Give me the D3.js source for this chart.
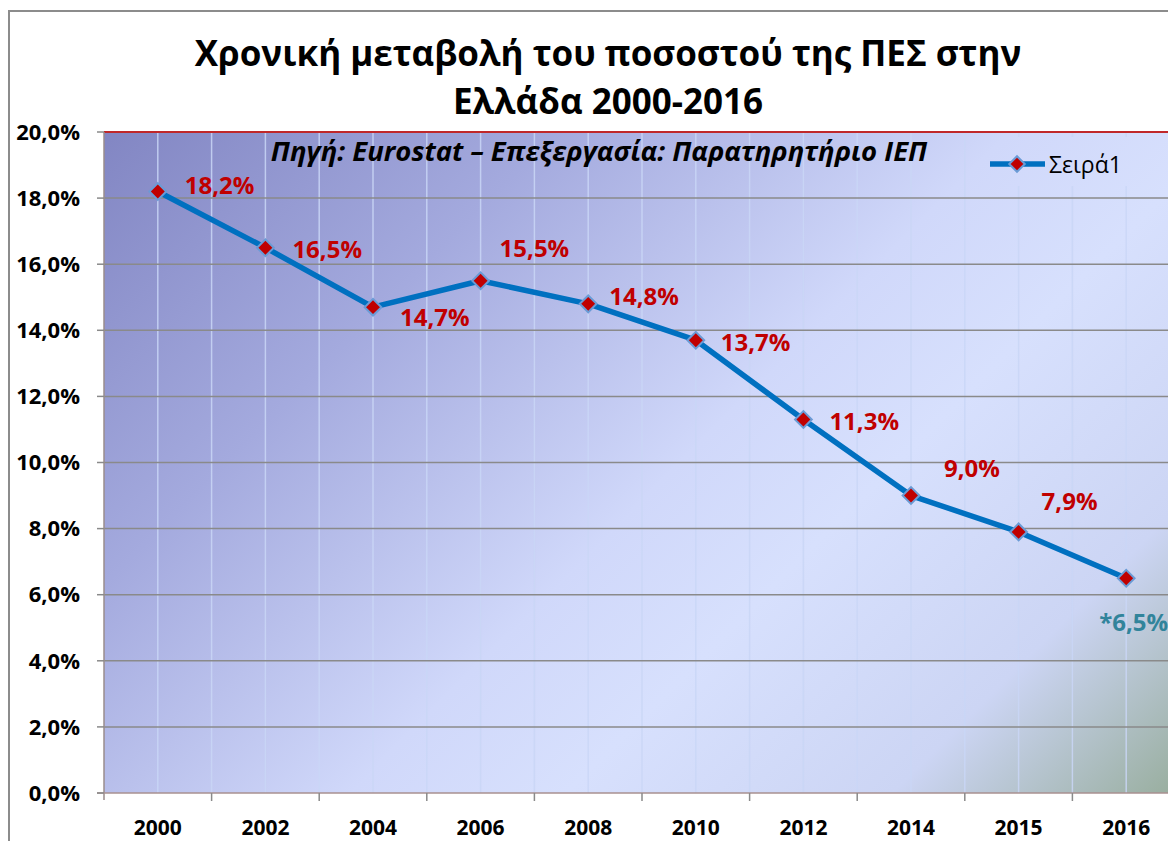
<!DOCTYPE html>
<html>
<head>
<meta charset="utf-8">
<script src="https://cdn.jsdelivr.net/npm/d3@7"></script>
<style>
body{margin:0;background:#fff;overflow:hidden}
text{font-family:"Open Sans","Noto Sans",sans-serif}
</style>
</head>
<body>
<div id="chart"></div>
<script>
var years = ["2000","2002","2004","2006","2008","2010","2012","2014","2015","2016"]
var values = [18.2,16.5,14.7,15.5,14.8,13.7,11.3,9.0,7.9,6.5]
var valueLabels = ["18,2%","16,5%","14,7%","15,5%","14,8%","13,7%","11,3%","9,0%","7,9%","*6,5%"]
var yTicks = [0,2,4,6,8,10,12,14,16,18,20]
// manual label placement (offset from marker, like the original excel layout)
var labelDx = [27,27,27,19,21,25,26,33,23,-27]
var labelDy = [-6,2,10,-32,-7,2,2,-27,-30,44]

var width = 1168,
    height = 841;
var pLeft = 104, pTop = 132, pBottom = 793, bandW = 107.6;

var svg = d3.select("#chart").append("svg")
    .attr("width", width)
    .attr("height", height)

var defs = svg.append("defs")
var grad = defs.append("linearGradient")
    .attr("id","bg")
    .attr("gradientUnits","userSpaceOnUse")
    .attr("x1",104).attr("y1",132)
    .attr("x2",1010).attr("y2",1038)
grad.append("stop").attr("offset",0).attr("stop-color","#8286c3")
grad.append("stop").attr("offset",0.25).attr("stop-color","#a4aade")
grad.append("stop").attr("offset",0.5).attr("stop-color","#d0d8fa")
grad.append("stop").attr("offset",0.62).attr("stop-color","#d7e0fd")
grad.append("stop").attr("offset",0.8).attr("stop-color","#ccd5f4")
grad.append("stop").attr("offset",1).attr("stop-color","#8aa386")

var x = d3.scaleBand().domain(years).range([pLeft, pLeft + bandW*years.length])
var y = d3.scaleLinear().domain([0,20]).range([pBottom, pTop])

// outer chart frame
svg.append("path")
    .attr("d","M9,841 L9,11 L1168,11")
    .attr("fill","none")
    .attr("stroke","#8c8c8c")
    .attr("stroke-width",2)

// plot area
svg.append("rect")
    .attr("x",pLeft).attr("y",pTop)
    .attr("width",bandW*years.length).attr("height",pBottom-pTop)
    .attr("fill","url(#bg)")

// vertical gridlines (centre and boundary of every category)
var vlines = []
years.forEach(function(d){
    vlines.push(x(d) + bandW/2)
    vlines.push(x(d) + bandW)
})
svg.selectAll(".vgrid").data(vlines).enter().append("line")
    .attr("class","vgrid")
    .attr("x1",function(d){return d}).attr("x2",function(d){return d})
    .attr("y1",pTop).attr("y2",pBottom)
    .attr("stroke","#c9d6f6")
    .attr("stroke-opacity",0.85)
    .attr("stroke-width",1.5)

// horizontal gridlines
svg.selectAll(".hgrid").data(yTicks.slice(1,-1)).enter().append("line")
    .attr("class","hgrid")
    .attr("x1",pLeft).attr("x2",width)
    .attr("y1",function(d){return y(d)}).attr("y2",function(d){return y(d)})
    .attr("stroke","#8a8a8a")
    .attr("stroke-width",1.5)

// legend box (covers gridlines)
svg.append("rect")
    .attr("x",966).attr("y",137)
    .attr("width",210).attr("height",49)
    .attr("fill","url(#bg)")

// top and axes lines
svg.append("line").attr("x1",pLeft).attr("x2",width).attr("y1",pTop).attr("y2",pTop)
    .attr("stroke","#c0282a").attr("stroke-width",2)
svg.append("line").attr("x1",pLeft).attr("x2",pLeft).attr("y1",pTop).attr("y2",pBottom+7)
    .attr("stroke","#9a8c8c").attr("stroke-width",1.5)
svg.append("line").attr("x1",pLeft-7).attr("x2",width).attr("y1",pBottom).attr("y2",pBottom)
    .attr("stroke","#a89090").attr("stroke-width",1.5)

// y ticks
svg.selectAll(".ytick").data(yTicks).enter().append("line")
    .attr("x1",pLeft-7).attr("x2",pLeft)
    .attr("y1",function(d){return y(d)}).attr("y2",function(d){return y(d)})
    .attr("stroke","#8a8a8a").attr("stroke-width",1.5)
svg.selectAll(".ylab").data(yTicks).enter().append("text")
    .attr("x",80)
    .attr("y",function(d){return y(d)})
    .attr("dy","0.35em")
    .attr("text-anchor","end")
    .attr("font-size",22)
    .attr("font-weight","bold")
    .text(function(d){return d3.format(".1f")(d).replace(".",",")+"%"})

// x ticks at category boundaries
svg.selectAll(".xtick").data(years).enter().append("line")
    .attr("x1",function(d){return x(d)+bandW}).attr("x2",function(d){return x(d)+bandW})
    .attr("y1",pBottom).attr("y2",pBottom+8)
    .attr("stroke","#8a8a8a").attr("stroke-width",1.5)
svg.selectAll(".xlab").data(years).enter().append("text")
    .attr("x",function(d){return x(d)+bandW/2})
    .attr("y",828)
    .attr("dy","0.35em")
    .attr("text-anchor","middle")
    .attr("font-size",21)
    .attr("font-weight","bold")
    .text(function(d){return d})

// series line
var line = d3.line()
    .x(function(d,i){return x(years[i])+bandW/2})
    .y(function(d){return y(d)})
svg.append("path")
    .datum(values)
    .attr("d",line)
    .attr("fill","none")
    .attr("stroke","#0070c0")
    .attr("stroke-width",5.5)
    .attr("stroke-linejoin","round")

svg.selectAll(".pt").data(values).enter().append("path")
    .attr("class","pt")
    .attr("d",d3.symbol().type(d3.symbolSquare).size(140))
    .attr("transform",function(d,i){return "translate("+(x(years[i])+bandW/2)+","+y(d)+") rotate(45)"})
    .attr("fill","#c00000")
    .attr("stroke","#6a9bd6")
    .attr("stroke-width",2)

// data labels
svg.selectAll(".vlab").data(values).enter().append("text")
    .attr("x",function(d,i){return x(years[i])+bandW/2+labelDx[i]})
    .attr("y",function(d,i){return y(d)+labelDy[i]})
    .attr("dy","0.35em")
    .attr("font-size",24)
    .attr("font-weight","bold")
    .attr("fill",function(d,i){return i===values.length-1 ? "#31849b" : "#c00000"})
    .text(function(d,i){return valueLabels[i]})

// title
svg.append("text")
    .attr("x",608).attr("y",66)
    .attr("text-anchor","middle")
    .attr("font-size",35)
    .attr("font-weight","bold")
    .text("Χρονική μεταβολή του ποσοστού της ΠΕΣ στην")
svg.append("text")
    .attr("x",608).attr("y",114)
    .attr("text-anchor","middle")
    .attr("font-size",35)
    .attr("font-weight","bold")
    .text("Ελλάδα 2000-2016")

svg.append("text")
    .attr("x",599).attr("y",161)
    .attr("text-anchor","middle")
    .attr("font-size",27.5)
    .attr("font-weight","bold")
    .attr("font-style","italic")
    .text("Πηγή: Eurostat – Επεξεργασία: Παρατηρητήριο ΙΕΠ")

// legend
svg.append("line").attr("x1",990).attr("x2",1045).attr("y1",164).attr("y2",164)
    .attr("stroke","#0070c0").attr("stroke-width",5.5)
svg.append("path")
    .attr("d",d3.symbol().type(d3.symbolSquare).size(120))
    .attr("transform","translate(1017,164) rotate(45)")
    .attr("fill","#c00000").attr("stroke","#6a9bd6").attr("stroke-width",2)
svg.append("text")
    .attr("x",1049).attr("y",165)
    .attr("dy","0.35em")
    .attr("font-size",23)
    .text("Σειρά1")
</script>
</body>
</html>
